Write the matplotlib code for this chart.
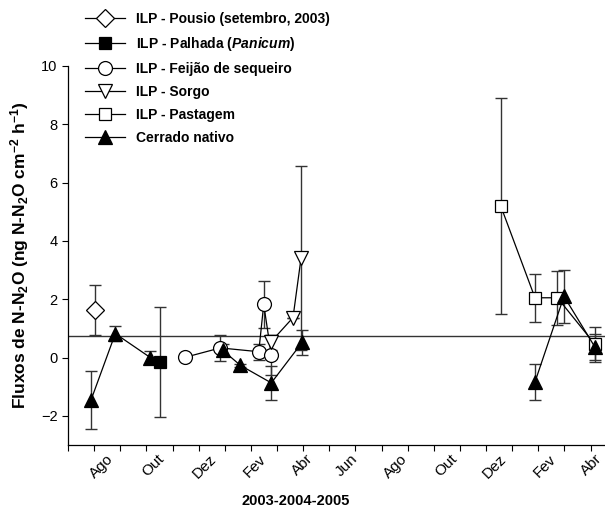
import numpy as np
import matplotlib
matplotlib.use("Agg")
import matplotlib.pyplot as plt

plt.rcParams['font.family'] = ['Liberation Sans', 'DejaVu Sans']
plt.rcParams['mathtext.fontset'] = 'custom'
plt.rcParams['mathtext.rm'] = 'Liberation Sans'
plt.rcParams['mathtext.bf'] = 'Liberation Sans:bold'
plt.rcParams['mathtext.bfit'] = 'Liberation Sans:italic:bold'

# x in months from the start of the axis (Jul 2003)
pousio_x = [1.02]
pousio_y = [1.62]
pousio_err = [0.86]

palhada_x = [3.53]
palhada_y = [-0.16]
palhada_err = [1.88]

feijao_x = [4.49, 5.83, 7.30, 7.49, 7.78]
feijao_y = [0.01, 0.33, 0.20, 1.82, 0.09]
feijao_err = [0.0, 0.46, 0.27, 0.81, 0.68]

sorgo_x = [7.75, 8.61, 8.92]
sorgo_y = [0.52, 1.37, 3.42]
sorgo_err = [0.25, 0.0, 3.16]

pastagem_x = [16.56, 17.87, 18.73, 20.17]
pastagem_y = [5.20, 2.05, 2.05, 0.45]
pastagem_err = [3.70, 0.83, 0.92, 0.60]

# nan breaks the line between sampling campaigns
cerrado_x = [0.88, 1.81, 3.15, np.nan, 5.92, 6.60, 7.78, 8.96, np.nan, 17.87, 18.98, 20.17]
cerrado_y = [-1.46, 0.82, 0.0, np.nan, 0.25, -0.27, -0.87, 0.52, np.nan, -0.84, 2.10, 0.35]
cerrado_err = [1.0, 0.25, 0.23, np.nan, 0.2, 0.05, 0.57, 0.44, np.nan, 0.62, 0.90, 0.45]

ref_level = 0.75

month_labels = ['Ago', 'Out', 'Dez', 'Fev', 'Abr', 'Jun', 'Ago', 'Out', 'Dez', 'Fev', 'Abr']
label_pos = [1.45, 3.4, 5.4, 7.3, 9.1, 10.8, 12.7, 14.6, 16.5, 18.4, 20.15]
month_ticks = list(range(0, 21))

series = [
    ('ILP - Pousio (setembro, 2003)', pousio_x, pousio_y, pousio_err, 'D', 'white', 9),
    (r'ILP - Palhada ($\mathbfit{Panicum}$)', palhada_x, palhada_y, palhada_err, 's', 'black', 9),
    ('ILP - Feijão de sequeiro', feijao_x, feijao_y, feijao_err, 'o', 'white', 10),
    ('ILP - Sorgo', sorgo_x, sorgo_y, sorgo_err, 'v', 'white', 10),
    ('ILP - Pastagem', pastagem_x, pastagem_y, pastagem_err, 's', 'white', 9),
    ('Cerrado nativo', cerrado_x, cerrado_y, cerrado_err, '^', 'black', 10),
]

fig = plt.figure(figsize=(6.05, 5.15), dpi=100)
ax = fig.add_axes([68 / 605, 1 - 445 / 515, 537 / 605, 379 / 515])

ax.axhline(ref_level, color='#333333', lw=1, zorder=1)

for label, x, y, err, mk, fc, ms in series:
    ax.errorbar(x, y, yerr=err, fmt='none', ecolor='#333333', elinewidth=1,
                capsize=4.3, capthick=1, zorder=2)
    ax.plot(x, y, '-', color='black', lw=0.9, marker=mk, ms=ms, mfc=fc,
            mec='black', mew=0.9, label=label, zorder=3)

ax.set_xlim(0, 20.55)
ax.set_ylim(-3, 10)
ax.set_yticks([-2, 0, 2, 4, 6, 8, 10])
ax.set_xticks(month_ticks)
ax.set_xticklabels([])
ax.set_xticks(label_pos, minor=True)
ax.set_xticklabels(month_labels, minor=True, rotation=45, ha='right', va='top',
                   rotation_mode='anchor', fontsize=11)
ax.tick_params(axis='x', which='minor', length=0, pad=5)
ax.tick_params(axis='both', which='major', direction='out', length=4, width=0.8,
               labelsize=10.5)

for side in ['top', 'right']:
    ax.spines[side].set_visible(False)
for side in ['left', 'bottom']:
    ax.spines[side].set_linewidth(0.9)

ax.set_ylabel(r'Fluxos de N-N$\mathbf{_2}$O (ng N-N$\mathbf{_2}$O cm$\mathbf{^{-2}}$ h$\mathbf{^{-1}}$)',
              fontsize=12.5, fontweight='bold', labelpad=7)
ax.set_xlabel('2003-2004-2005', fontsize=10.5, fontweight='bold')
ax.xaxis.set_label_coords(228 / 537, -0.13)

ax.legend(loc='upper left', bbox_to_anchor=(85 / 605, 1 - 12 / 515),
          bbox_transform=fig.transFigure, frameon=False, borderpad=0,
          borderaxespad=0, handlelength=2.9, handletextpad=0.8,
          labelspacing=0.65, prop={'weight': 'bold', 'size': 10})

fig.savefig('out.png', dpi=100)
